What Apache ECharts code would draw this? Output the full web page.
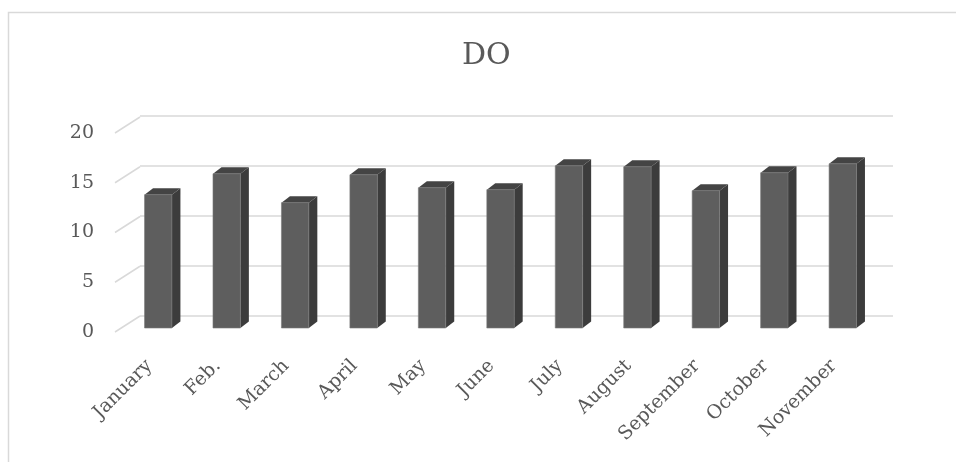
<!DOCTYPE html>
<html>
<head>
<meta charset="utf-8">
<script src="https://cdn.jsdelivr.net/npm/echarts@6/dist/echarts.min.js"></script>
<style>html,body{margin:0;padding:0;background:#fff}#c{width:956px;height:462px}</style>
</head>
<body>
<div id="c"></div>
<script>
var categories = ['January','Feb.','March','April','May','June','July','August','September','October','November'];
var doValues = [13.4, 15.5, 12.6, 15.4, 14.1, 13.9, 16.3, 16.2, 13.8, 15.6, 16.5];
var yTicks = [0, 5, 10, 15, 20];
var titleText = 'DO';

var FONT = 'DejaVu Serif';
var TXT = '#595959';
var GRID_COLOR = '#d9d9d9';

var chart = echarts.init(document.getElementById('c'), null, {renderer: 'canvas'});

function renderBar(params, api) {
  var i = api.value(0), v = api.value(1);
  var top = api.coord([i, v]);
  var base = api.coord([i, 0]);
  var band = api.size([1, 0])[0];
  var w = band * 0.4;
  var dx = 8.5, dy = -6.5;
  var x0 = top[0] - w / 2, x1 = top[0] + w / 2;
  var yT = top[1], yB = base[1];
  return {
    type: 'group',
    children: [
      {type: 'polygon', shape: {points: [[x1, yT], [x1 + dx, yT + dy], [x1 + dx, yB + dy], [x1, yB]]},
       style: {fill: '#3c3c3c'}},
      {type: 'polygon', shape: {points: [[x0, yT], [x0 + dx, yT + dy], [x1 + dx, yT + dy], [x1, yT]]},
       style: {fill: '#444444'}},
      {type: 'rect', shape: {x: x0, y: yT, width: w, height: yB - yT},
       style: {fill: '#5e5e5e', stroke: '#7a7a7a', lineWidth: 0.6}}
    ]
  };
}

function renderDiag(params, api) {
  var v = api.value(0);
  var c = api.coord([0, v]);
  var band = api.size([1, 0])[0];
  var x = c[0] - band / 2;
  return {
    type: 'line',
    shape: {x1: x, y1: c[1], x2: x + 25, y2: c[1] - 16},
    style: {stroke: GRID_COLOR, lineWidth: 1.5}
  };
}

var option = {
  animation: false,
  backgroundColor: '#fff',
  title: {
    text: titleText,
    left: 457, top: 36,
    textStyle: {fontFamily: FONT, fontSize: 30, fontWeight: 'normal', color: TXT}
  },
  graphic: [{
    type: 'rect', silent: true, z: -10,
    shape: {x: 8.5, y: 12.5, width: 1000, height: 500},
    style: {fill: 'none', stroke: '#d9d9d9', lineWidth: 1.5}
  }],
  grid: [
    {left: 124, width: 753, top: 129, height: 199},
    {left: 140, width: 753, top: 116, height: 200},
    {left: 115, width: 753, top: 133, height: 199}
  ],
  xAxis: [
    {gridIndex: 0, type: 'category', data: categories, show: false},
    {gridIndex: 1, type: 'category', data: categories, show: false},
    {gridIndex: 2, type: 'category', data: categories,
     axisLine: {show: false}, axisTick: {show: false},
     axisLabel: {rotate: 45, margin: 31, interval: 0, fontFamily: FONT, fontSize: 19, color: TXT}}
  ],
  yAxis: [
    {gridIndex: 0, type: 'value', min: 0, max: 20, interval: 5, show: false},
    {gridIndex: 1, type: 'value', min: 0, max: 20, interval: 5,
     axisLine: {show: false}, axisTick: {show: false}, axisLabel: {show: false},
     splitLine: {show: true, lineStyle: {color: GRID_COLOR, width: 1.5}}},
    {gridIndex: 2, type: 'value', min: 0, max: 20, interval: 5,
     axisLine: {show: false}, axisTick: {show: false}, splitLine: {show: false},
     axisLabel: {margin: 21, fontFamily: FONT, fontSize: 19, color: TXT}}
  ],
  series: [
    {type: 'custom', xAxisIndex: 2, yAxisIndex: 2, z: 1,
     data: yTicks.map(function (t) { return [t]; }),
     encode: {y: 0}, renderItem: renderDiag, silent: true},
    {type: 'custom', name: 'DO', xAxisIndex: 0, yAxisIndex: 0, z: 5,
     data: doValues.map(function (v, i) { return [i, v]; }),
     encode: {x: 0, y: 1}, renderItem: renderBar}
  ]
};
chart.setOption(option);
</script>
</body>
</html>
